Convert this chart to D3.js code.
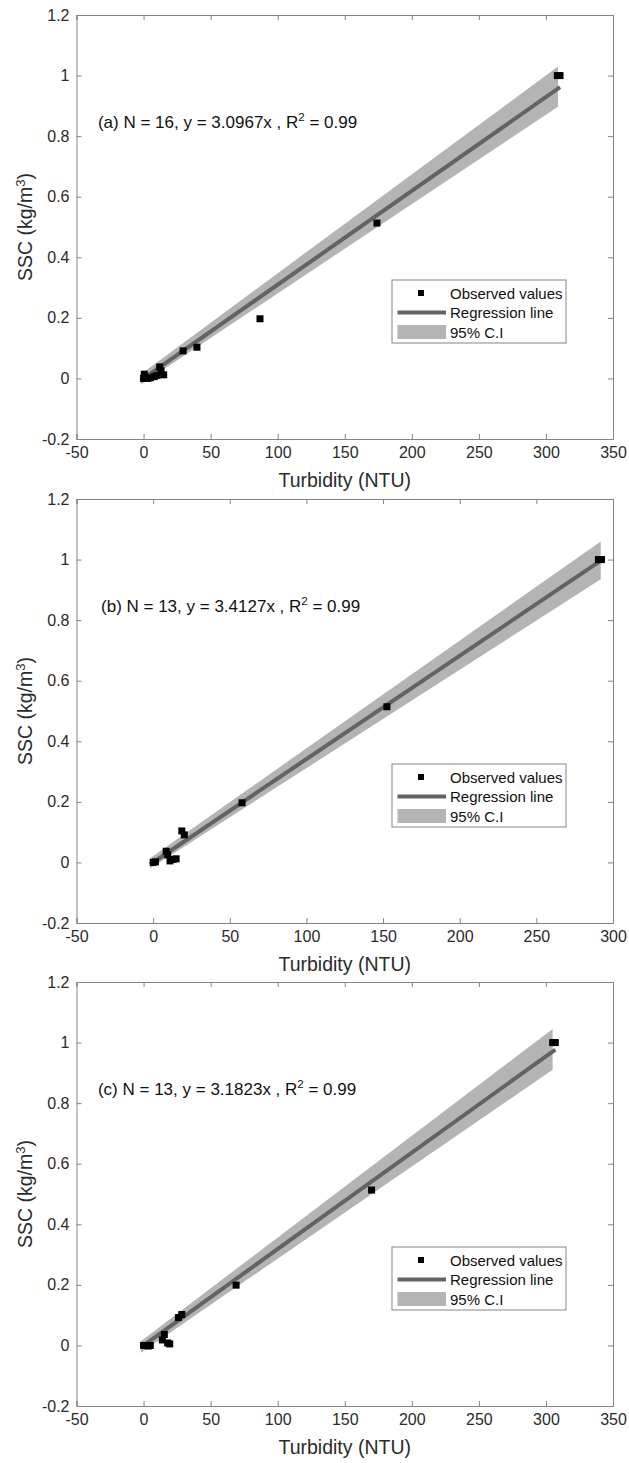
<!DOCTYPE html>
<html><head><meta charset="utf-8">
<script src="https://cdn.jsdelivr.net/npm/d3@7"></script>
<style>
html,body{margin:0;padding:0;background:#fff;}
svg{display:block;font-family:"Liberation Sans",Arial,sans-serif;}
</style></head>
<body>
<script>
// ---------- DATA ----------
const panelLabels = ["(a)", "(b)", "(c)"];
const nObs = [16, 13, 13];
const slopes = [3.0967, 3.4127, 3.1823];          // SSC = slope * Turbidity / 1000
const r2Values = [0.99, 0.99, 0.99];
const xMaxes = [350, 300, 350];
const yTickValues = [-0.2, 0, 0.2, 0.4, 0.6, 0.8, 1, 1.2];

const turbidityA = [0, 0.5, 1, 3, 5, 8, 10, 12, 13, 15, 29.5, 39.8, 86.8, 174, 308.5, 310.5];
const sscA       = [0, 0.014, 0.005, 0, 0.002, 0.006, 0.01, 0.038, 0.025, 0.012, 0.091, 0.103, 0.197, 0.513, 1.0, 1.0];

const turbidityB = [0, 1.5, 8.5, 9.5, 11, 13, 15, 18.7, 20.3, 58, 152.5, 290.5, 292.5];
const sscB       = [0, 0.002, 0.037, 0.025, 0.005, 0.01, 0.012, 0.104, 0.091, 0.197, 0.514, 1.0, 1.0];

const turbidityC = [0, 3.5, 5, 14, 15.5, 18, 19.5, 26, 28.5, 69, 170, 305, 307];
const sscC       = [0, -0.002, 0, 0.018, 0.036, 0.008, 0.005, 0.092, 0.102, 0.199, 0.513, 1.0, 1.0];

// 95% confidence band edges read at the two ends of the fitted line
const bandXA = [-2, 309],  bandLowA = [-0.02, 0.897], bandHighA = [0.014, 1.030];
const bandXB = [-2, 292],  bandLowB = [-0.02, 0.935], bandHighB = [0.014, 1.060];
const bandXC = [-2, 305],  bandLowC = [-0.024, 0.910], bandHighC = [0.014, 1.045];

const legendLabels = ["Observed values", "Regression line", "95% C.I"];

// ---------- LAYOUT ----------
const W = 629, H = 1463;
const left = 76.5, right = 613, plotH = 424;
const panelTops = [15, 499, 982];
const frameColor = "#858585", textColor = "#2b2b2b";
const lineColor = "#636363", bandColor = "#b4b4b4";

const svg = d3.select("body").append("svg").attr("width", W).attr("height", H);

const panels = [
  {x: turbidityA, y: sscA, bx: bandXA, bl: bandLowA, bh: bandHighA},
  {x: turbidityB, y: sscB, bx: bandXB, bl: bandLowB, bh: bandHighB},
  {x: turbidityC, y: sscC, bx: bandXC, bl: bandLowC, bh: bandHighC}
];

const fmtTick = d => String(+(+d).toFixed(1));

panels.forEach((p, i) => {
  const top = panelTops[i];
  const g = svg.append("g");
  const x = d3.scaleLinear().domain([-50, xMaxes[i]]).range([left, right]);
  const y = d3.scaleLinear().domain([-0.2, 1.2]).range([top + plotH, top]);
  const xTicks = d3.range(-50, xMaxes[i] + 1, 50);

  // band
  const bandData = p.bx.map((v, k) => ({x: v, lo: p.bl[k], hi: p.bh[k]}));
  g.append("path").datum(bandData)
    .attr("d", d3.area().x(d => x(d.x)).y0(d => y(d.lo)).y1(d => y(d.hi)))
    .attr("fill", bandColor);

  // regression line
  const xEnd = d3.max(p.x);
  const lineData = [p.bx[0], xEnd].map(v => ({x: v, y: slopes[i] * v / 1000}));
  g.append("path").datum(lineData)
    .attr("d", d3.line().x(d => x(d.x)).y(d => y(d.y)))
    .attr("stroke", lineColor).attr("stroke-width", 4).attr("fill", "none");

  // points
  const ms = 7;
  g.selectAll("rect.pt").data(p.x.map((v, k) => [v, p.y[k]])).join("rect")
    .attr("class", "pt")
    .attr("x", d => x(d[0]) - ms / 2).attr("y", d => y(d[1]) - ms / 2)
    .attr("width", ms).attr("height", ms).attr("fill", "#000");

  // axes (ticks inward, box)
  const axB = d3.axisBottom(x).tickValues(xTicks).tickSize(-5).tickPadding(8).tickFormat(fmtTick);
  const axT = d3.axisTop(x).tickValues(xTicks).tickSize(-5).tickFormat("");
  const axL = d3.axisLeft(y).tickValues(yTickValues).tickSize(-5).tickPadding(7).tickFormat(fmtTick);
  const axR = d3.axisRight(y).tickValues(yTickValues).tickSize(-5).tickFormat("");

  const styleAx = sel => {
    sel.selectAll(".domain").attr("stroke", frameColor);
    sel.selectAll(".tick line").attr("stroke", frameColor);
    sel.selectAll(".tick text").attr("fill", textColor).attr("font-size", 16)
      .attr("font-family", "Liberation Sans, Arial, sans-serif");
  };
  g.append("g").attr("transform", `translate(0,${top + plotH})`).call(axB).call(styleAx);
  g.append("g").attr("transform", `translate(0,${top})`).call(axT).call(styleAx);
  g.append("g").attr("transform", `translate(${left},0)`).call(axL).call(styleAx);
  g.append("g").attr("transform", `translate(${right},0)`).call(axR).call(styleAx);
  g.selectAll(".domain").attr("stroke-width", 1);

  // axis titles
  g.append("text").attr("x", (left + right) / 2).attr("y", top + plotH + 48)
    .attr("text-anchor", "middle").attr("font-size", 19.5).attr("fill", textColor)
    .text("Turbidity (NTU)");
  const yt = g.append("text")
    .attr("transform", `translate(32,${top + plotH / 2}) rotate(-90)`)
    .attr("text-anchor", "middle").attr("font-size", 19.5).attr("fill", textColor);
  yt.append("tspan").text("SSC (kg/m");
  yt.append("tspan").attr("dy", -7).attr("font-size", 13).text("3");
  yt.append("tspan").attr("dy", 7).text(")");

  // annotation
  const an = g.append("text").attr("x", x(-34)).attr("y", top + 113)
    .attr("font-size", 17).attr("fill", "#111");
  an.append("tspan").text(`${panelLabels[i]} N = ${nObs[i]}, y = ${slopes[i].toFixed(4)}x , R`);
  an.append("tspan").attr("dy", -7).attr("font-size", 11.5).text("2");
  an.append("tspan").attr("dy", 7).text(` = ${r2Values[i].toFixed(2)}`);

  // legend
  const lx = 392, ly = top + 265, lw = 174, lh = 63;
  const lg = g.append("g");
  lg.append("rect").attr("x", lx).attr("y", ly).attr("width", lw).attr("height", lh)
    .attr("fill", "#fff").attr("stroke", frameColor);
  const rowY = [ly + 13, ly + 32.5, ly + 52];
  lg.append("rect").attr("x", 421 - 3).attr("y", rowY[0] - 3).attr("width", 6).attr("height", 6).attr("fill", "#000");
  lg.append("line").attr("x1", 397.5).attr("x2", 446).attr("y1", rowY[1]).attr("y2", rowY[1])
    .attr("stroke", lineColor).attr("stroke-width", 4);
  lg.append("rect").attr("x", 397.5).attr("y", rowY[2] - 7).attr("width", 48.5).attr("height", 14).attr("fill", bandColor);
  legendLabels.forEach((t, k) => {
    lg.append("text").attr("x", 450).attr("y", rowY[k] + 5.5).attr("font-size", 15)
      .attr("fill", "#111").text(t);
  });
});
</script>
</body></html>
